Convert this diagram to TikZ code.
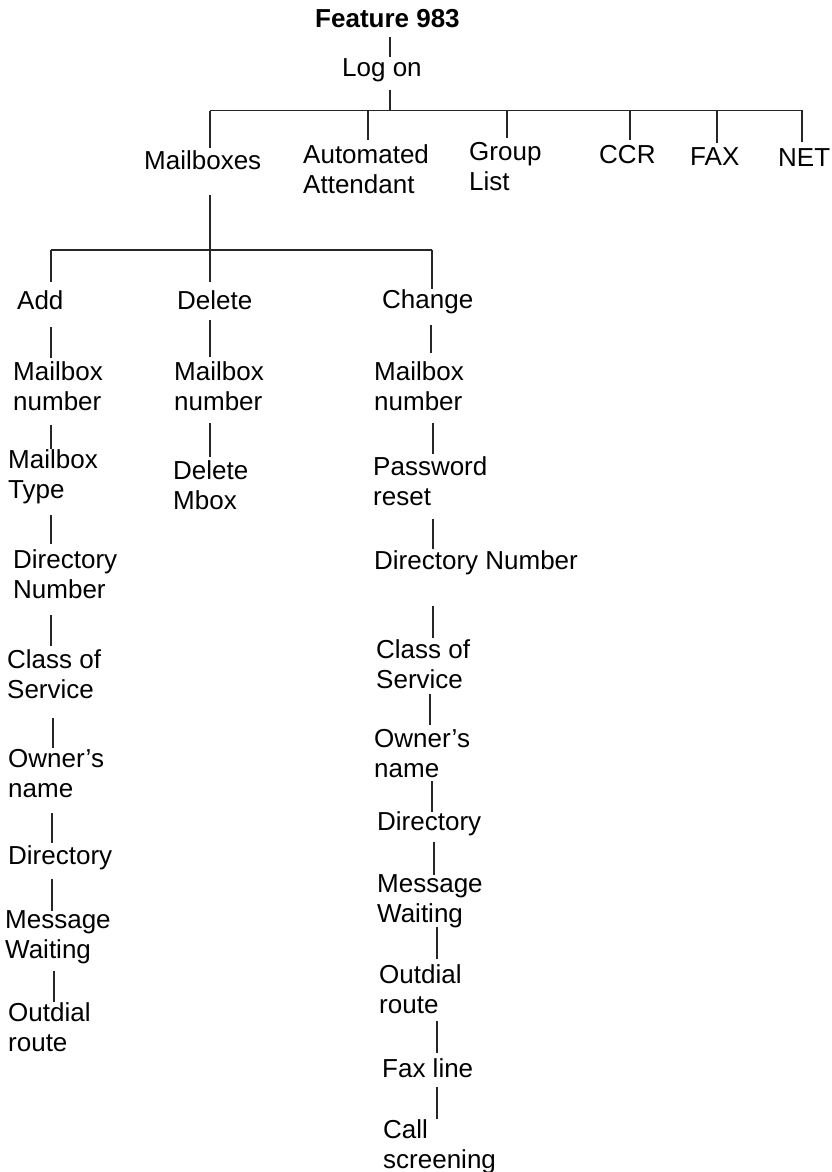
\documentclass[tikz,border=0pt]{standalone}
\usepackage{fontspec}
\setmainfont{Liberation Sans}
\usepackage{tikz}
\usetikzlibrary{calc}

\tikzset{
	txt/.style={anchor=base west, inner sep=0pt, align=left, font=\fontsize{26}{30}\selectfont},
	link/.style={line width=1.1pt, black!85}
}
\newcommand{\branch}[5]{\draw[link, shorten <=#4pt, shorten >=#5pt] ([xshift=#1pt]origin |- #2) -- ([xshift=#1pt]origin |- #3);}

\begin{document}
\begin{tikzpicture}[x=1pt, y=-1pt]
			\useasboundingbox (0,0) rectangle (831,1172);
			\coordinate (origin) at (0,0);
			
			\node[txt, font=\fontsize{26}{30}\selectfont\bfseries] (title) at (315,28) {Feature 983};
			\node[txt] (logon) at (342,76) {Log on};
			
			\node[txt] (mailboxes) at (144,169) {Mailboxes};
			\node[txt] (autoatt) at (303,193) {Automated\\Attendant};
			\node[txt] (grouplist) at (469,190) {Group\\List};
			\node[txt] (ccr) at (599,163) {CCR};
			\node[txt] (fax) at (690,165) {FAX};
			\node[txt] (net) at (778,166) {NET};
			
			\node[txt] (add) at (17,309) {Add};
			\node[txt] (delete) at (177,309) {Delete};
			\node[txt] (change) at (382,308) {Change};
			
			\node[txt] (mbA) at (13,410) {Mailbox\\number};
			\node[txt] (typeA) at (8,498) {Mailbox\\Type};
			\node[txt] (dirnA) at (13,598) {Directory\\Number};
			\node[txt] (cosA) at (7,698) {Class of\\Service};
			\node[txt] (ownA) at (8,797) {Owner's\\name};
			\node[txt] (dirA) at (8,864) {Directory};
			\node[txt] (msgA) at (5,958) {Message\\Waiting};
			\node[txt] (outA) at (8,1051) {Outdial\\route};
			
			\node[txt] (mbD) at (174,410) {Mailbox\\number};
			\node[txt] (delD) at (173,509) {Delete\\Mbox};
			
			\node[txt] (mbC) at (374,410) {Mailbox\\number};
			\node[txt] (pwC) at (373,505) {Password\\reset};
			\node[txt] (dnC) at (374,569) {Directory Number};
			\node[txt] (cosC) at (376,688) {Class of\\Service};
			\node[txt] (ownC) at (374,777) {Owner's\\name};
			\node[txt] (dirC) at (377,830) {Directory};
			\node[txt] (msgC) at (377,922) {Message\\Waiting};
			\node[txt] (outC) at (379,1013) {Outdial\\route};
			\node[txt] (faxC) at (382,1077) {Fax line};
			\node[txt] (callC) at (383,1168) {Call\\screening};
			
			\coordinate (bus1L) at (210,110.5);
			\coordinate (bus1R) at (803,110.5);
			\coordinate (bus2L) at (51,250);
			\coordinate (bus2R) at (432,250);
			\draw[link] (bus1L) -- (bus1R);
			\draw[link] (bus2L) -- (bus2R);
			
			\branch{390}{title.south}{logon.north}{9}{1.4}
			\branch{390}{logon.south}{bus1L}{8.5}{0}
			\branch{210}{bus1L}{mailboxes.north}{0}{2.4}
			\branch{368}{bus1L}{autoatt.north}{0}{4.4}
			\branch{507}{bus1L}{grouplist.north}{0}{3.4}
			\branch{630}{bus1L}{ccr.north}{0}{4.4}
			\branch{717}{bus1L}{fax.north}{0}{4.4}
			\branch{802}{bus1L}{net.north}{0}{6}
			
			\branch{210}{mailboxes.south}{bus2L}{26}{0}
			\branch{51}{bus2L}{add.north}{0}{8.4}
			\branch{210}{bus2L}{delete.north}{0}{8.4}
			\branch{432}{bus2L}{change.north}{0}{0.4}
			
			\branch{51}{add.south}{mbA.north}{18}{3.4}
			\branch{51}{mbA.south}{typeA.north}{15}{0.4}
			\branch{51}{typeA.south}{dirnA.north}{11.5}{5.4}
			\branch{51}{dirnA.south}{cosA.north}{17}{3.4}
			\branch{53}{cosA.south}{ownA.north}{20}{0.4}
			\branch{52}{ownA.south}{dirA.north}{16}{2.4}
			\branch{52}{dirA.south}{msgA.north}{9.5}{-0.6}
			\branch{54}{msgA.south}{outA.north}{7.5}{0.4}
			
			\branch{210}{delete.south}{mbD.north}{11}{4.4}
			\branch{210}{mbD.south}{delD.north}{13}{3.4}
			
			\branch{431}{change.south}{mbC.north}{11.5}{8.4}
			\branch{433}{mbC.south}{pwC.north}{13}{2.4}
			\branch{433}{pwC.south}{dnC.north}{14}{1.4}
			\branch{433}{dnC.south}{cosC.north}{31.5}{1.4}
			\branch{430}{cosC.south}{ownC.north}{6}{3.4}
			\branch{432}{ownC.south}{dirC.north}{4}{-0.6}
			\branch{434}{dirC.south}{msgC.north}{6.5}{-0.6}
			\branch{437}{msgC.south}{outC.north}{-0.5}{5.4}
			\branch{437}{outC.south}{faxC.north}{8}{5.4}
			\branch{437}{faxC.south}{callC.north}{10}{0.4}
		\end{tikzpicture}
\end{document}
